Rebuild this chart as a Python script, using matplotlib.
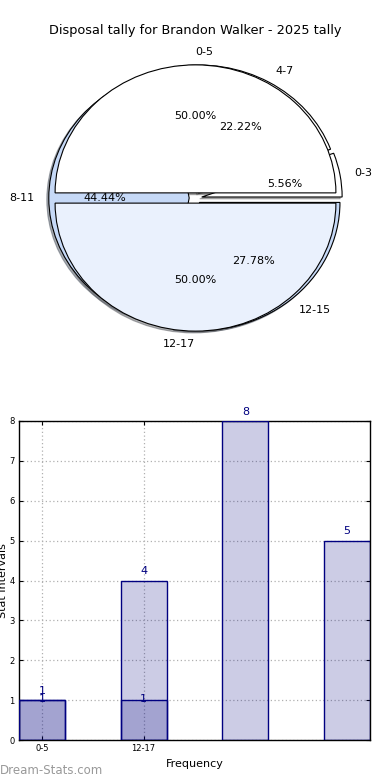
import matplotlib
matplotlib.use("Agg")
import matplotlib.pyplot as plt

# ---- data ----
title = "Disposal tally for Brandon Walker - 2025 tally"
pie1_labels = ["0-3", "4-7", "8-11", "12-15"]
pie1_values = [1, 4, 8, 5]
pie2_labels = ["0-5", "12-17"]
pie2_values = [1, 1]

bar1_values = [1, 4, 8, 5]
bar2_values = [1, 1]
xtick_labels = ["0-5", "12-17"]
yticks = [0, 1, 2, 3, 4, 5, 6, 7, 8]

pie1_colors = ["white", "white", "#c6d9f7", "#c6d9f7"]
pie2_colors = ["white", "#eaf1fd"]

fig = plt.figure(figsize=(3.9, 7.8), dpi=100)

# ---- pie ----
shadow = {'ox': -0.01, 'oy': -0.01, 'shade': 0.6}
axp = fig.add_axes([20/390, 1 - 358/780, 351/390, 320/780])
w1, t1, a1 = axp.pie(pie1_values, labels=pie1_labels, colors=pie1_colors,
                     explode=[0.045]*len(pie1_values), autopct='%.2f%%',
                     shadow=shadow, startangle=0, labeldistance=1.1, pctdistance=0.6,
                     wedgeprops=dict(edgecolor='black', linewidth=0.8),
                     textprops=dict(fontsize=8))
w2, t2, a2 = axp.pie(pie2_values, labels=pie2_labels, colors=pie2_colors,
                     explode=[0.04]*len(pie2_values), autopct='%.2f%%',
                     shadow=shadow, startangle=0, labeldistance=1.1, pctdistance=0.6,
                     wedgeprops=dict(edgecolor='black', linewidth=0.8),
                     textprops=dict(fontsize=8))
t2[0].set_ha('left')
t2[1].set_ha('right')
axp.set_aspect('auto')
axp.set_xlim(-1.25, 1.25)
axp.set_ylim(-1.25, 1.25)
axp.set_title(title, fontsize=9.3, pad=3)

# ---- bars ----
axb = fig.add_axes([19/390, 40/780, 351/390, 319/780])
x1 = list(range(len(bar1_values)))
x2 = list(range(len(bar2_values)))
axb.bar(x1, bar1_values, width=0.45, color='navy', alpha=0.2, zorder=2)
axb.bar(x1, bar1_values, width=0.45, facecolor='none', edgecolor='navy', linewidth=1, zorder=3)
axb.bar(x2, bar2_values, width=0.45, color='navy', alpha=0.2, zorder=2)
axb.bar(x2, bar2_values, width=0.45, facecolor='none', edgecolor='navy', linewidth=1, zorder=3)
for xi, v in zip(x1, bar1_values):
    axb.annotate(str(v), (xi, v), xytext=(0, 3), textcoords='offset points',
                 ha='center', va='bottom', color='navy', fontsize=8, zorder=5)
for xi, v in zip(x2, bar2_values):
    axb.annotate(str(v), (xi, v), xytext=(0, 1), textcoords='offset points',
                 ha='center', va='center', color='navy', fontsize=8, zorder=5)

axb.set_xlim(-0.225, len(bar1_values) - 1 + 0.225)
axb.set_ylim(0, 8)
axb.set_yticks(yticks)
axb.set_xticks(x2)
axb.set_xticklabels(xtick_labels)
axb.tick_params(axis='both', direction='in', top=True, right=True, labelsize=6, length=3, pad=3)
axb.grid(True, linestyle=(0, (1, 2)), color='#b0b0b0', linewidth=0.9, zorder=0)
axb.set_axisbelow(True)
axb.set_xlabel("Frequency", fontsize=8, labelpad=4)
axb.set_ylabel("Stat Intervals", fontsize=8, labelpad=1)
for s in axb.spines.values():
    s.set_linewidth(1)

fig.text(0.0, 3/780, "Dream-Stats.com", color='#999999', fontsize=8.5,
         ha='left', va='bottom')

fig.savefig("out.png", dpi=100)
